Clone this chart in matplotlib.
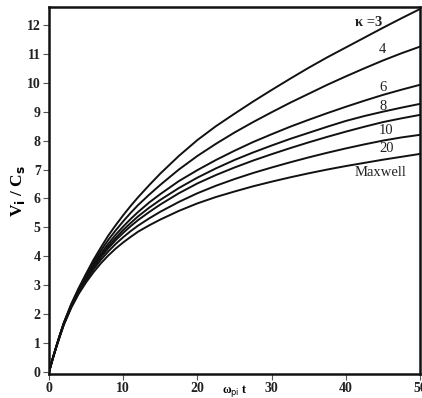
import matplotlib
matplotlib.use("Agg")
import matplotlib.pyplot as plt

t = [0, 0.5, 1, 1.5, 2, 3, 4, 5, 6, 7, 8, 9, 10, 11, 12, 13.5, 15, 17.5, 20, 22.5,
     25, 27.5, 30, 32.5, 35, 37.5, 40, 42.5, 45, 47.5, 50]
v_k3 = [0, 0.47, 0.9, 1.31, 1.7, 2.35, 2.9, 3.4, 3.88, 4.31, 4.72, 5.08, 5.42, 5.74, 6.04,
        6.46, 6.86, 7.47, 8.02, 8.5, 8.93, 9.35, 9.75, 10.14, 10.52, 10.88, 11.22, 11.56,
        11.9, 12.23, 12.55]
v_k4 = [0, 0.47, 0.9, 1.31, 1.7, 2.33, 2.87, 3.35, 3.8, 4.2, 4.57, 4.9, 5.21, 5.5, 5.77,
        6.13, 6.47, 7.0, 7.47, 7.89, 8.28, 8.64, 8.98, 9.31, 9.62, 9.93, 10.22, 10.5,
        10.77, 11.02, 11.25]
v_k6 = [0, 0.46, 0.89, 1.3, 1.68, 2.3, 2.83, 3.3, 3.72, 4.1, 4.44, 4.75, 5.03, 5.29, 5.53,
        5.86, 6.15, 6.6, 6.98, 7.33, 7.65, 7.95, 8.22, 8.48, 8.72, 8.95, 9.17, 9.38,
        9.58, 9.76, 9.93]
v_k8 = [0, 0.46, 0.89, 1.29, 1.67, 2.28, 2.8, 3.26, 3.67, 4.03, 4.35, 4.64, 4.91, 5.15,
        5.38, 5.68, 5.95, 6.36, 6.72, 7.04, 7.33, 7.59, 7.83, 8.06, 8.27, 8.48, 8.68,
        8.85, 9.0, 9.14, 9.27]
v_k10 = [0, 0.46, 0.88, 1.28, 1.66, 2.27, 2.78, 3.22, 3.62, 3.97, 4.28, 4.56, 4.81, 5.04,
         5.25, 5.53, 5.79, 6.18, 6.52, 6.81, 7.07, 7.31, 7.53, 7.74, 7.94, 8.13, 8.31,
         8.48, 8.64, 8.77, 8.89]
v_k20 = [0, 0.46, 0.88, 1.27, 1.65, 2.25, 2.75, 3.18, 3.55, 3.88, 4.17, 4.43, 4.66, 4.87,
         5.06, 5.31, 5.54, 5.88, 6.18, 6.44, 6.67, 6.88, 7.07, 7.25, 7.42, 7.58, 7.73,
         7.87, 8.0, 8.11, 8.2]
v_max = [0, 0.45, 0.87, 1.26, 1.63, 2.22, 2.7, 3.1, 3.45, 3.76, 4.03, 4.27, 4.48, 4.67,
         4.85, 5.07, 5.27, 5.57, 5.83, 6.05, 6.24, 6.42, 6.58, 6.73, 6.87, 7.0, 7.12,
         7.23, 7.34, 7.44, 7.54]

curves = [v_k3, v_k4, v_k6, v_k8, v_k10, v_k20, v_max]
labels = ["κ =3", "4", "6", "8", "10", "20", "Maxwell"]
label_pos = [(41.2, 12.08), (44.5, 11.14), (44.5, 9.83), (44.5, 9.17), (44.5, 8.34),
             (44.5, 7.72), (41.2, 6.89)]

xticks = [0, 10, 20, 30, 40, 50]
yticks = list(range(0, 13))

fig = plt.figure(figsize=(4.22, 3.98), dpi=100)
ax = fig.add_axes([49/422, 1 - 374/398, (420 - 49)/422, (374 - 7)/398])

for v in curves:
    ax.plot(t, v, color="#111111", lw=1.4, solid_capstyle="round", solid_joinstyle="round")

for lab, (x, y) in zip(labels, label_pos):
    fw = "bold" if lab.startswith("κ") else "normal"
    ax.text(x, y, lab, fontsize=10.5, family="Liberation Serif", fontweight=fw,
            ha="left", va="center", color="#222222")

ax.set_xlim(0, 50)
ax.set_ylim(-0.07, 12.62)
ax.set_xticks(xticks)
ax.set_yticks(yticks)
ax.tick_params(axis="both", direction="out", length=4, width=0.8, color="#555555",
               labelsize=10, pad=2)
for lbl in ax.get_xticklabels() + ax.get_yticklabels():
    lbl.set_fontfamily("Liberation Serif")
    lbl.set_fontweight("bold")
    lbl.set_color("#222222")

for s in ax.spines.values():
    s.set_linewidth(1.8)
    s.set_color("#111111")

ax.set_ylabel(r"V$_{\mathbf{i}}$ / C$_{\mathbf{s}}$", fontsize=12.5, family="Liberation Serif",
              fontweight="bold")
ax.yaxis.set_label_coords(-0.06, 0.5)
ax.set_xlabel(r"ω$_{\mathrm{pi}}$ t", fontsize=8.5, family="Liberation Serif",
              fontweight="bold")
ax.xaxis.set_label_coords(0.5, -0.024)

fig.savefig("out.png", dpi=100)
